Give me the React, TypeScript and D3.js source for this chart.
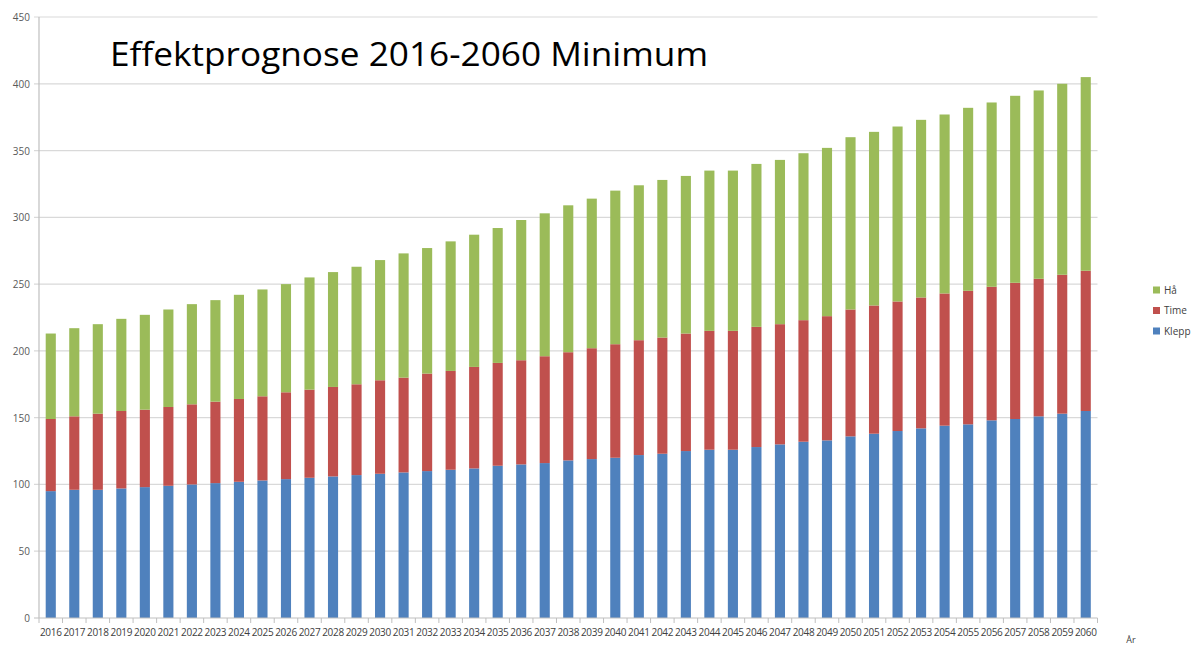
import { useEffect, useRef } from "react";
import * as d3 from "d3";

const years = d3.range(2016, 2061).map(String);
const totalTop = [213, 217, 220, 224, 227, 231, 235, 238, 242, 246, 250, 255, 259, 263, 268, 273, 277, 282, 287, 292, 298, 303, 309, 314, 320, 324, 328, 331, 335, 335, 340, 343, 348, 352, 360, 364, 368, 373, 377, 382, 386, 391, 395, 400, 405];
const timeTop = [149, 151, 153, 155, 156, 158, 160, 162, 164, 166, 169, 171, 173, 175, 178, 180, 183, 185, 188, 191, 193, 196, 199, 202, 205, 208, 210, 213, 215, 215, 218, 220, 223, 226, 231, 234, 237, 240, 243, 245, 248, 251, 254, 257, 260];
const klepp = [95, 96, 96, 97, 98, 99, 100, 101, 102, 103, 104, 105, 106, 107, 108, 109, 110, 111, 112, 114, 115, 116, 118, 119, 120, 122, 123, 125, 126, 126, 128, 130, 132, 133, 136, 138, 140, 142, 144, 145, 148, 149, 151, 153, 155];
const time = timeTop.map((v, i) => v - klepp[i]);
const ha = totalTop.map((v, i) => v - timeTop[i]);
const seriesKeys = ["Klepp", "Time", "Hå"];
const colors: Record<string, string> = { Klepp: "#4f81bd", Time: "#c0504d", "Hå": "#9bbb59" };
const yTicks = [0, 50, 100, 150, 200, 250, 300, 350, 400, 450];

export default function App() {
  const svgRef = useRef<SVGSVGElement | null>(null);

  useEffect(() => {
    const W = 1195, H = 646;
    const left = 39, right = 1097.5, top = 17, bottom = 618;
    const svg = d3.select(svgRef.current);
    svg.selectAll("*").remove();
    svg.attr("width", W).attr("height", H);

    const x = d3.scaleBand().domain(years).range([left, right]).paddingInner(0.57).paddingOuter(0.285);
    const y = d3.scaleLinear().domain([0, 450]).range([bottom, top]);

    const rows = years.map((yr, i) => ({ year: yr, Klepp: klepp[i], Time: time[i], "Hå": ha[i] }));
    const stacked = d3.stack<any>().keys(seriesKeys)(rows);

    // grid
    svg.append("g").selectAll("line").data(yTicks.slice(1)).join("line")
      .attr("x1", left - 5).attr("x2", right).attr("y1", d => y(d)).attr("y2", d => y(d))
      .attr("stroke", "#d9d9d9").attr("stroke-width", 1.2);

    svg.append("g").selectAll("text").data(yTicks).join("text")
      .attr("x", 30).attr("y", d => y(d) + 4).attr("text-anchor", "end")
      .attr("font-family", "Open Sans, sans-serif").attr("font-size", 10).attr("fill", "#595959")
      .text(d => d);

    // bars
    svg.append("g").selectAll("g").data(stacked).join("g")
      .attr("fill", d => colors[d.key])
      .selectAll("rect").data(d => d).join("rect")
      .attr("x", (d: any) => x(d.data.year)!)
      .attr("width", x.bandwidth())
      .attr("y", d => y(d[1]))
      .attr("height", d => y(d[0]) - y(d[1]));

    // axes
    svg.append("line").attr("x1", left).attr("x2", left).attr("y1", top).attr("y2", bottom)
      .attr("stroke", "#bfbfbf").attr("stroke-width", 1.2);
    svg.append("line").attr("x1", left - 5).attr("x2", right).attr("y1", bottom).attr("y2", bottom)
      .attr("stroke", "#bfbfbf").attr("stroke-width", 1.2);
    const step = x.step();
    svg.append("g").selectAll("line").data(d3.range(years.length + 1)).join("line")
      .attr("x1", i => left + i * step).attr("x2", i => left + i * step)
      .attr("y1", bottom).attr("y2", bottom + 5)
      .attr("stroke", "#bfbfbf").attr("stroke-width", 1);

    svg.append("g").selectAll("text").data(years).join("text")
      .attr("x", d => x(d)! + x.bandwidth() / 2).attr("y", bottom + 18).attr("text-anchor", "middle")
      .attr("font-family", "Open Sans, sans-serif").attr("font-size", 10).attr("letter-spacing", -0.3)
      .attr("fill", "#404040")
      .text(d => d);

    svg.append("text").attr("x", 1131).attr("y", 643).attr("text-anchor", "middle")
      .attr("font-family", "Open Sans, sans-serif").attr("font-size", 9).attr("fill", "#404040")
      .text("År");

    // title
    svg.append("text").attr("x", 110).attr("y", 66)
      .attr("font-family", "Open Sans, sans-serif").attr("font-size", 32).attr("fill", "#000")
      .attr("textLength", 598).attr("lengthAdjust", "spacingAndGlyphs")
      .text("Effektprognose 2016-2060 Minimum");

    // legend
    const legendItems = ["Hå", "Time", "Klepp"];
    const lg = svg.append("g").selectAll("g").data(legendItems).join("g")
      .attr("transform", (_, i) => `translate(1153,${290 + i * 20.5})`);
    lg.append("rect").attr("x", 0).attr("y", -3.5).attr("width", 7).attr("height", 7).attr("fill", d => colors[d]);
    lg.append("text").attr("x", 11).attr("y", 3.5)
      .attr("font-family", "Open Sans, sans-serif").attr("font-size", 10).attr("fill", "#404040")
      .text(d => d);
  }, []);

  return (
    <div style={{ position: "absolute", left: 0, top: 0, background: "#fff" }}>
      <svg ref={svgRef}></svg>
    </div>
  );
}
